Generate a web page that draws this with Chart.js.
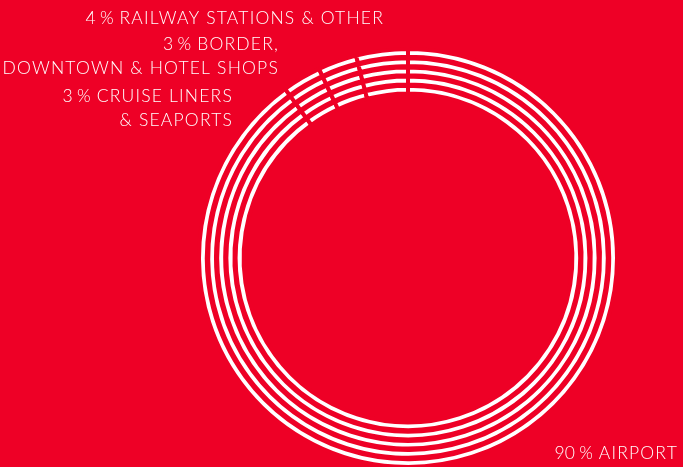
<!DOCTYPE html>
<html>
<head>
<meta charset="utf-8">
<style>
  html, body { margin: 0; padding: 0; background: #EE0026; overflow: hidden; }
  #wrap { width: 683px; height: 467px; position: relative; }
</style>
<script src="https://cdn.jsdelivr.net/npm/chart.js@4.4.1/dist/chart.umd.min.js"></script>
</head>
<body>
<div id="wrap"><canvas id="c" width="683" height="467"></canvas></div>
<script>
// Sales by channel, share of total (%)
const channels = [
  'AIRPORT',
  'CRUISE LINERS\n& SEAPORTS',
  'BORDER,\nDOWNTOWN & HOTEL SHOPS',
  'RAILWAY STATIONS & OTHER'
];
const shares = [90, 3, 3, 4];

const RED = '#EE0026';
const WHITE = '#FFFFFF';
const RING_COUNT = 5;

// Label anchors: right edge x and first baseline y for each channel
const labelAnchors = [
  { x: 678, y: 459 },
  { x: 233, y: 102 },
  { x: 279, y: 50 },
  { x: 384, y: 24 }
];

// Five thin white rings separated by narrow transparent spacer rings
const datasets = [];
for (let i = 0; i < RING_COUNT; i++) {
  datasets.push({
    data: shares,
    backgroundColor: WHITE,
    borderColor: RED,
    borderWidth: 4,
    weight: 7.8,
    clip: false
  });
  if (i < RING_COUNT - 1) {
    datasets.push({
      data: shares,
      backgroundColor: 'rgba(0,0,0,0)',
      borderWidth: 0,
      weight: 1.4,
      clip: false
    });
  }
}

const labelPlugin = {
  id: 'channelLabels',
  afterDraw(chart) {
    const ctx = chart.ctx;
    ctx.save();
    ctx.fillStyle = WHITE;
    ctx.font = '300 17.5px Lato, "Open Sans", sans-serif';
    ctx.textAlign = 'right';
    ctx.textBaseline = 'alphabetic';
    if ('letterSpacing' in ctx) ctx.letterSpacing = '1.2px';
    channels.forEach((name, i) => {
      const lines = name.split('\n');
      lines[0] = shares[i] + '\u202F% ' + lines[0];
      const a = labelAnchors[i];
      lines.forEach((line, j) => {
        ctx.fillText(line, a.x, a.y + j * 24);
      });
    });
    ctx.restore();
  }
};

new Chart(document.getElementById('c'), {
  type: 'doughnut',
  data: { labels: channels, datasets },
  options: {
    responsive: false,
    animation: false,
    events: [],
    radius: 209,
    cutout: (164.4 / 209 * 100) + '%',
    layout: { padding: { left: 133, right: 0, top: 49, bottom: 0 } },
    plugins: { legend: { display: false }, tooltip: { enabled: false } }
  },
  plugins: [labelPlugin]
});
</script>
</body>
</html>
